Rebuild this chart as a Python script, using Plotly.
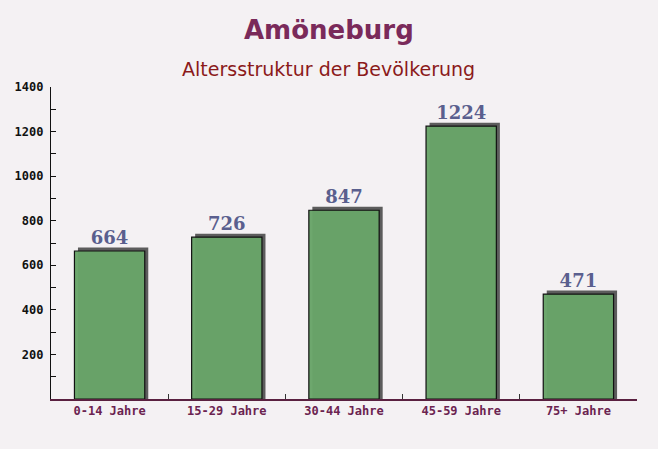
import plotly.graph_objects as go

categories = ["0-14 Jahre", "15-29 Jahre", "30-44 Jahre", "45-59 Jahre", "75+ Jahre"]
values = [664, 726, 847, 1224, 471]
y_ticks = [200, 400, 600, 800, 1000, 1200, 1400]

fig = go.Figure()

# shadow (3D effect)
fig.add_trace(go.Bar(
    x=categories, y=[v + 16 for v in values],
    width=0.6, offset=-0.27,
    marker=dict(color="rgba(75,75,75,0.9)", line=dict(width=0)),
    hoverinfo="skip", showlegend=False,
))
# main bars
fig.add_trace(go.Bar(
    x=categories, y=values,
    width=0.6, offset=-0.3,
    marker=dict(color="rgba(104,164,104,0.97)", line=dict(color="#111111", width=1.2)),
    showlegend=False,
))
# value labels (invisible markers push the text up a little)
fig.add_trace(go.Scatter(
    x=categories, y=values, mode="markers+text",
    marker=dict(size=3, opacity=0),
    text=[str(v) for v in values], textposition="top center",
    textfont=dict(family="DejaVu Serif", size=18, color="#5a5f8e", weight="bold"),
    hoverinfo="skip", showlegend=False, cliponaxis=False,
))

fig.add_annotation(
    text="<b>Amöneburg</b>", xref="paper", yref="paper", x=0.474, y=1, yshift=57,
    xanchor="center", yanchor="middle", showarrow=False,
    font=dict(family="DejaVu Sans", size=26, color="#7a2a5a"),
)
fig.add_annotation(
    text="Altersstruktur der Bevölkerung", xref="paper", yref="paper", x=0.474, y=1, yshift=18,
    xanchor="center", yanchor="middle", showarrow=False,
    font=dict(family="DejaVu Sans", size=19, color="#8b1a1a"),
)

fig.update_layout(
    width=658, height=449,
    margin=dict(l=51, r=21, t=87, b=50),
    paper_bgcolor="#f4f1f3",
    plot_bgcolor="rgba(0,0,0,0)",
    barmode="overlay",
    xaxis=dict(
        type="category", showgrid=False,
        showline=True, linecolor="#5a2040", linewidth=1.5,
        ticks="inside", tickson="boundaries", ticklen=5, tickcolor="#333",
        tickfont=dict(family="DejaVu Sans Mono", size=12, color="#6b2350", weight="bold"),
        range=[-0.5, 4.5],
    ),
    yaxis=dict(
        range=[0, 1400], showgrid=False, zeroline=False,
        showline=True, linecolor="#111", linewidth=1.2,
        tickvals=y_ticks, ticks="inside", ticklen=5, tickcolor="#111",
        ticklabelstandoff=4,
        tickfont=dict(family="DejaVu Sans Mono", size=12, color="#111", weight="bold"),
        minor=dict(dtick=100, ticks="inside", ticklen=5, tickcolor="#111"),
    ),
)

fig.write_html(
    "out.html",
    config={"displayModeBar": False},
    post_script="document.body.style.margin='0';document.body.style.overflow='hidden';",
)
